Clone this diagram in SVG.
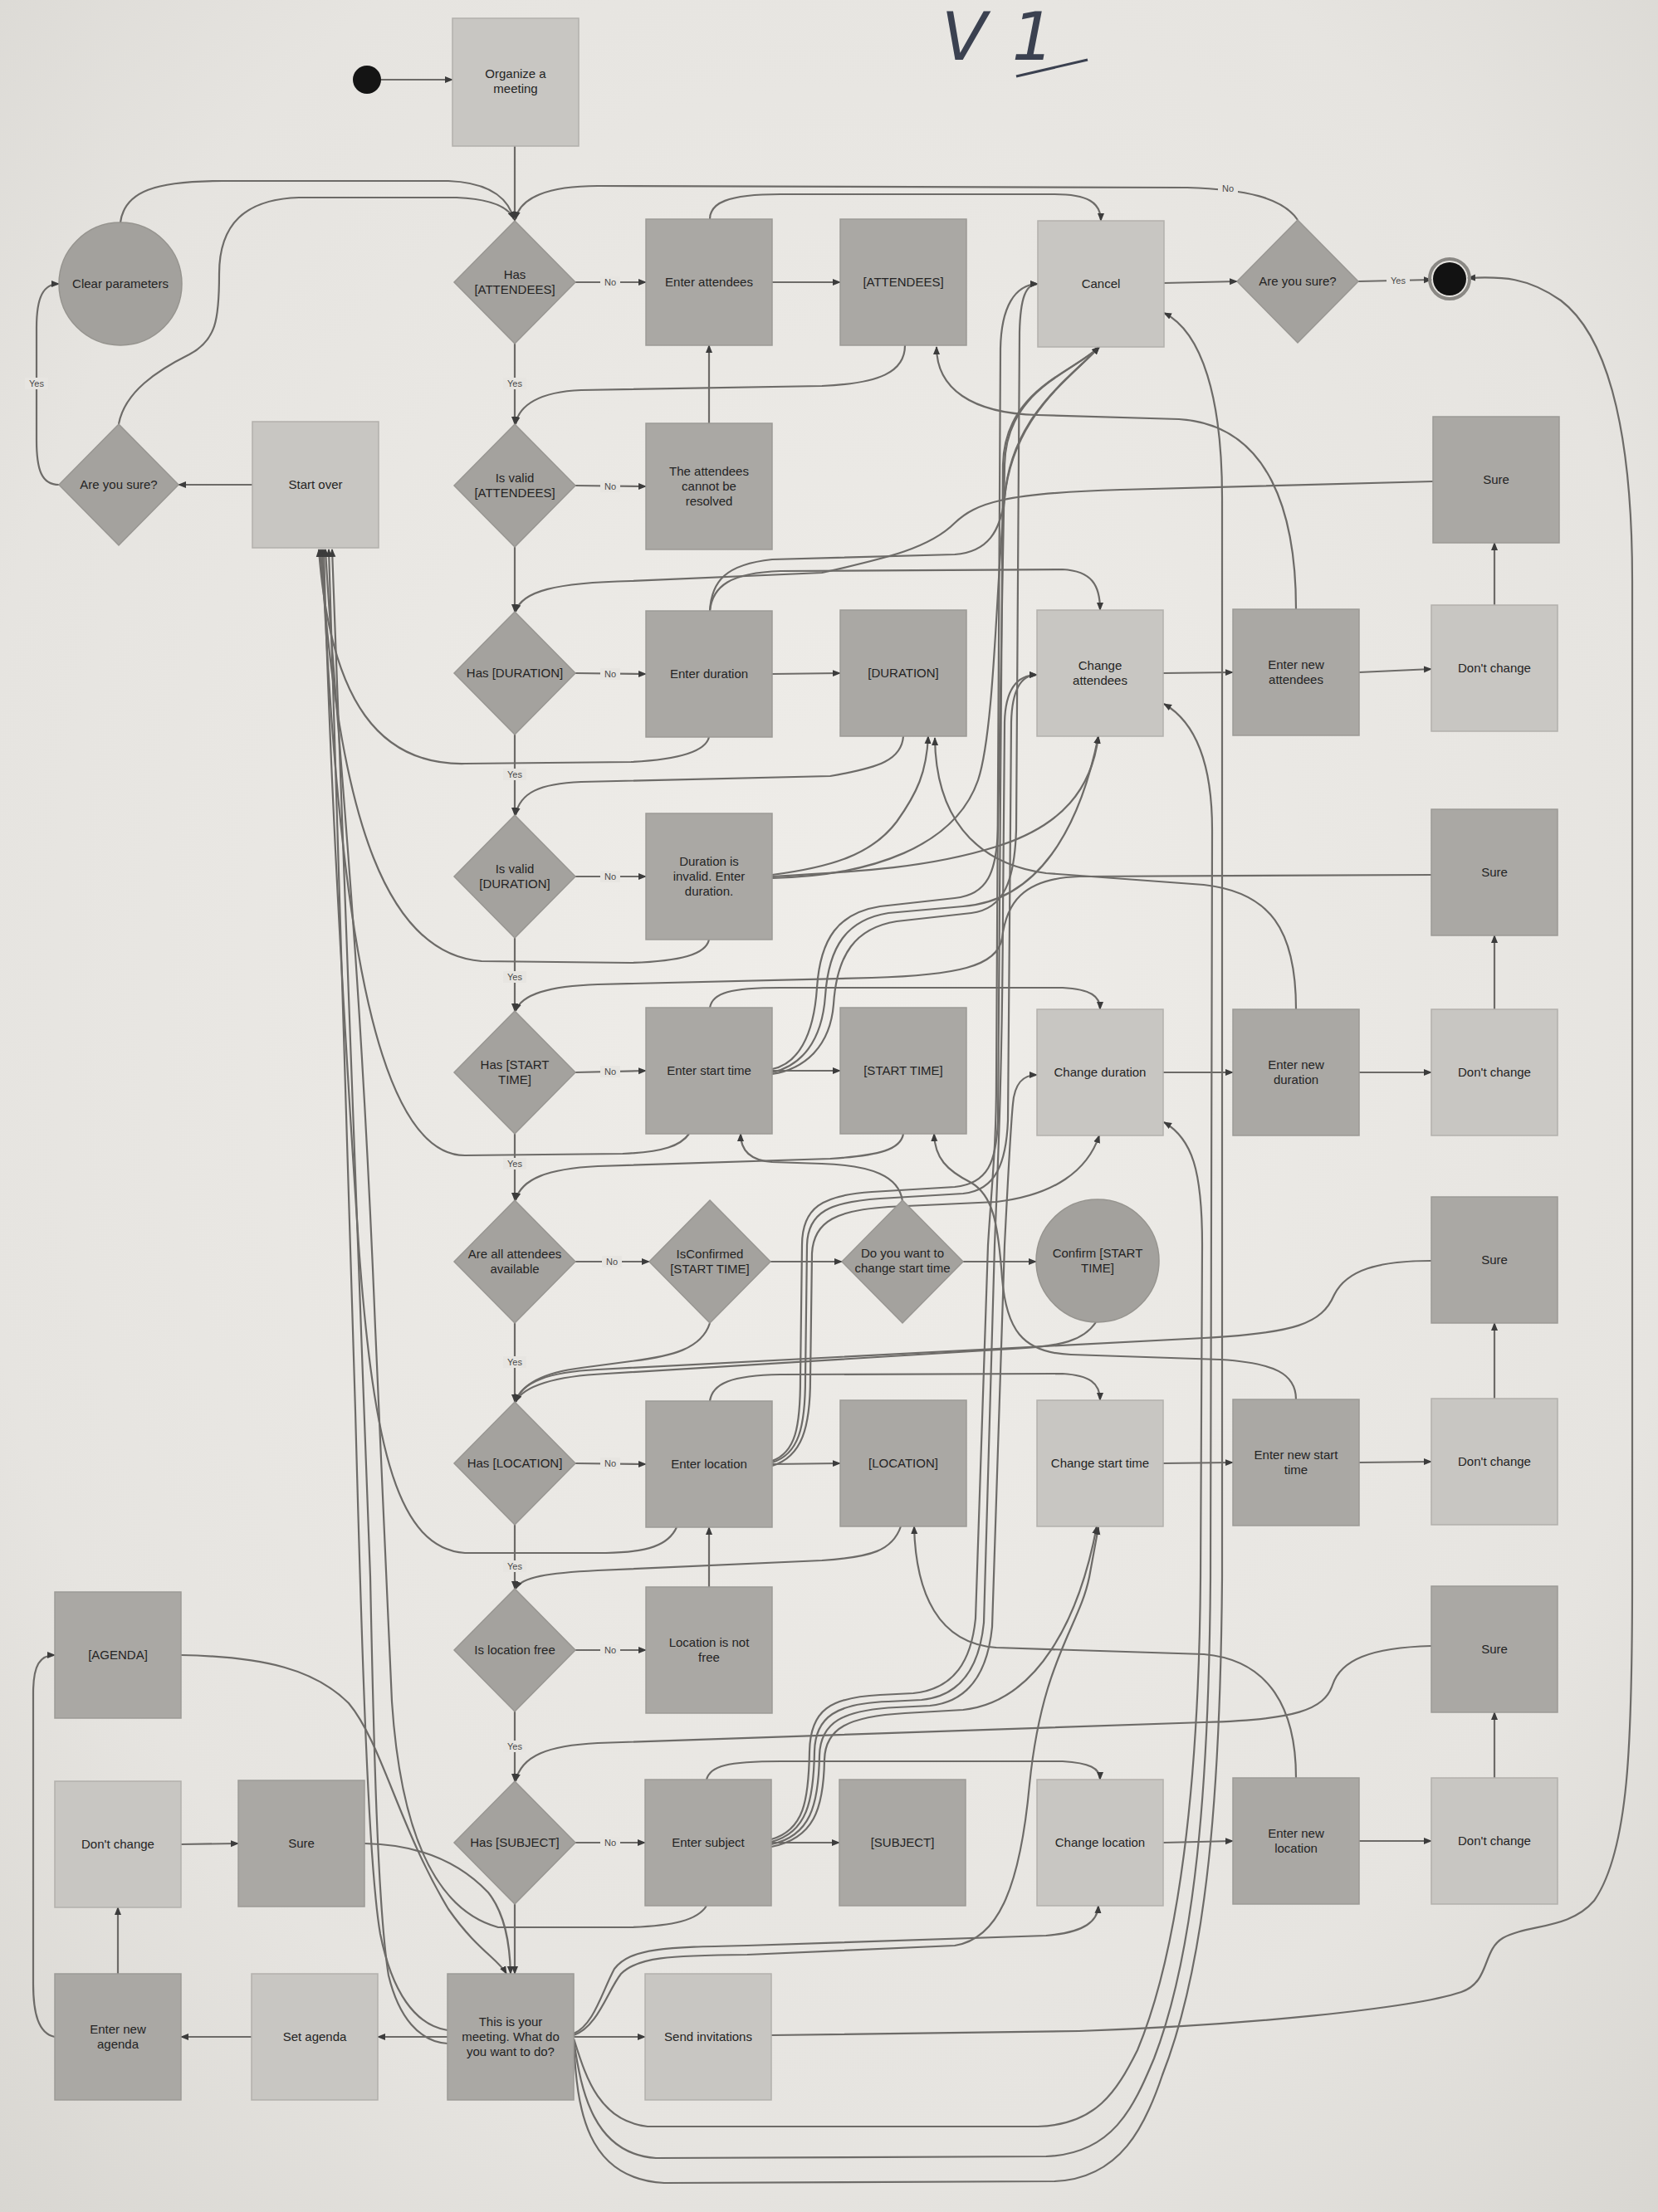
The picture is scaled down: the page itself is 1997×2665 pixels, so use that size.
<svg xmlns="http://www.w3.org/2000/svg" width="1997" height="2665" viewBox="0 0 1997 2665">
<defs>
<radialGradient id="paper" cx="50%" cy="45%" r="75%">
<stop offset="0" stop-color="#efede9"/>
<stop offset="0.7" stop-color="#e6e4e0"/>
<stop offset="1" stop-color="#d8d6d1"/>
</radialGradient>
<marker id="ah" viewBox="0 0 10 10" refX="9" refY="5" markerWidth="10" markerHeight="10" markerUnits="userSpaceOnUse" orient="auto">
<path d="M0,1 L10,5 L0,9 z" fill="#3c3c3c"/>
</marker>
<style>
.lb{fill:#c8c6c2;stroke:#b2b0ac;stroke-width:1.5}
.db{fill:#aaa8a4;stroke:#9c9a96;stroke-width:1.5}
.dm{fill:#a4a29e;stroke:#989692;stroke-width:1.5}
.cc{fill:#a3a19d;stroke:#96948f;stroke-width:1.5}
.t{font-family:"Liberation Sans",Arial,sans-serif;font-size:15px;fill:#242424;text-anchor:middle}
.lbl{font-family:"Liberation Sans",Arial,sans-serif;font-size:11px;fill:#4a4a4a;text-anchor:middle}
.lbg{fill:#e7e5e1}
.cn path{fill:none;stroke:#6d6b68;stroke-width:2.2;marker-end:url(#ah)}
</style>
</defs>
<rect x="0" y="0" width="1997" height="2665" fill="url(#paper)"/>
<text x="1134" y="72" font-family="DejaVu Sans" font-size="80" font-weight="200" font-style="italic" fill="#3b4150" letter-spacing="30">V1</text>
<path d="M1224,92 L1310,72" stroke="#3b4150" stroke-width="3" fill="none"/>

<g id="connectors" class="cn">
<path d="M459,96 L545,96"/>
<path d="M620,176 L620,266"/>
<path d="M693,340 L778,340"/>
<path d="M930,340 L1012,340"/>
<path d="M620,414 L620,511"/>
<path d="M693,585 L778,586"/>
<path d="M854,510 L854,416"/>
<path d="M620,659 L620,737"/>
<path d="M693,811 L778,812"/>
<path d="M930,812 L1012,811"/>
<path d="M620,885 L620,982"/>
<path d="M693,1056 L778,1056"/>
<path d="M620,1130 L620,1218"/>
<path d="M693,1292 L778,1290"/>
<path d="M930,1290 L1012,1290"/>
<path d="M620,1366 L620,1446"/>
<path d="M693,1520 L782,1520"/>
<path d="M928,1520 L1014,1520"/>
<path d="M1160,1520 L1248,1520"/>
<path d="M620,1594 L620,1689"/>
<path d="M693,1763 L778,1764"/>
<path d="M930,1764 L1012,1763"/>
<path d="M620,1837 L620,1914"/>
<path d="M693,1988 L778,1988"/>
<path d="M854,1912 L854,1840"/>
<path d="M620,2062 L620,2146"/>
<path d="M693,2220 L777,2220"/>
<path d="M929,2220 L1011,2220"/>
<path d="M620,2294 L620,2378"/>
<path d="M539,2454 L455,2454"/>
<path d="M303,2454 L218,2454"/>
<path d="M142,2378 L142,2298"/>
<path d="M218,2222 L287,2221"/>
<path d="M691,2454 L777,2454"/>
<path d="M304,584 L215,584"/>
<path d="M71,584 C50,584 44,566 44,530 L44,395 C44,358 52,342 71,342"/>
<path d="M1402,341 L1490,339"/>
<path d="M1636,339 L1724,337"/>
<path d="M1401,811 L1485,810"/>
<path d="M1637,810 L1724,806"/>
<path d="M1800,729 L1800,654"/>
<path d="M1401,1292 L1485,1292"/>
<path d="M1637,1292 L1724,1292"/>
<path d="M1800,1216 L1800,1127"/>
<path d="M1401,1763 L1485,1762"/>
<path d="M1637,1762 L1724,1761"/>
<path d="M1800,1685 L1800,1594"/>
<path d="M1401,2220 L1485,2218"/>
<path d="M1637,2218 L1724,2218"/>
<path d="M1800,2142 L1800,2063"/>
<path d="M66,2454 C46,2450 40,2425 40,2390 L40,2040 C40,2006 48,1994 66,1994"/>
<path d="M1563,265 C1545,238 1500,228 1430,226 L720,224 C660,224 626,238 621,264"/>
<path d="M145,268 C150,230 188,218 268,218 L540,218 C590,220 612,238 619,264"/>
<path d="M143,511 C150,472 190,446 228,427 C260,410 264,386 264,330 C264,270 295,240 360,238 L550,238 C594,240 613,250 619,264"/>
<path d="M855,264 C855,245 875,234 940,234 L1270,234 C1310,234 1326,244 1326,266"/>
<path d="M1090,416 C1090,448 1060,462 990,465 L700,470 C650,472 625,488 621,511"/>
<path d="M1561,734 C1561,620 1530,512 1420,505 L1250,500 C1170,498 1128,468 1128,418"/>
<path d="M1726,580 L1350,590 C1210,594 1175,606 1150,630 C1120,660 1070,672 990,690 L760,700 C670,702 628,712 621,737"/>
<path d="M855,736 C858,706 880,690 940,688 L1280,686 C1315,688 1325,705 1325,735"/>
<path d="M1088,887 C1086,915 1060,925 1000,935 L700,942 C650,944 626,955 621,982"/>
<path d="M1561,1216 C1561,1120 1530,1075 1450,1066 L1260,1052 C1170,1040 1127,980 1126,889"/>
<path d="M1724,1054 L1300,1056 C1230,1058 1212,1090 1207,1130 C1202,1165 1150,1175 1050,1178 L720,1186 C660,1188 628,1198 621,1218"/>
<path d="M855,1214 C858,1196 880,1190 940,1190 L1280,1190 C1314,1192 1325,1200 1325,1216"/>
<path d="M1088,1366 C1085,1385 1060,1392 1000,1396 L720,1405 C660,1408 628,1420 621,1446"/>
<path d="M1561,1686 C1561,1655 1535,1642 1470,1638 L1290,1632 C1230,1630 1212,1600 1207,1540 C1202,1470 1195,1440 1170,1425 C1140,1410 1126,1395 1125,1366"/>
<path d="M1087,1447 C1083,1417 1050,1404 990,1402 L930,1400 C902,1398 892,1385 892,1366"/>
<path d="M1724,1519 C1660,1519 1622,1530 1607,1560 C1592,1595 1560,1606 1450,1612 L720,1650 C660,1653 628,1665 621,1689"/>
<path d="M855,1594 C845,1625 810,1634 760,1640 L700,1648 C652,1654 628,1668 621,1689"/>
<path d="M1320,1593 C1305,1615 1280,1622 1220,1625 L730,1655 C668,1658 630,1670 621,1689"/>
<path d="M855,1688 C858,1667 880,1657 940,1656 L1280,1655 C1312,1657 1325,1666 1325,1687"/>
<path d="M1085,1839 C1075,1868 1050,1876 990,1880 L720,1892 C660,1895 628,1900 621,1914"/>
<path d="M1561,2142 C1561,2060 1530,2000 1450,1993 L1200,1985 C1130,1980 1103,1920 1101,1839"/>
<path d="M1724,1983 C1650,1985 1615,2000 1605,2030 C1595,2060 1560,2072 1450,2075 L720,2100 C660,2103 628,2115 621,2146"/>
<path d="M851,2144 C855,2128 875,2122 940,2122 L1280,2122 C1312,2124 1325,2130 1325,2144"/>
<path d="M218,1994 C320,1996 380,2012 420,2052 C460,2100 480,2200 540,2300 C575,2350 600,2360 610,2378"/>
<path d="M439,2221 C500,2222 550,2240 588,2280 C608,2305 614,2340 615,2378"/>
<path d="M855,736 C857,700 874,680 930,674 L1150,668 C1190,665 1205,640 1210,600 C1218,500 1290,455 1324,418"/>
<path d="M930,1054 C1000,1045 1050,1030 1080,990 C1105,955 1116,930 1118,887"/>
<path d="M930,1056 C1040,1050 1120,1045 1200,1020 C1280,995 1315,950 1323,887"/>
<path d="M930,1058 C1050,1055 1150,1020 1178,940 C1198,880 1200,700 1210,600 C1220,500 1290,455 1324,418"/>
<path d="M930,1288 C960,1282 980,1250 984,1190 C988,1130 1010,1100 1060,1092 L1150,1082 C1190,1078 1200,1050 1202,1000 L1210,560 C1212,470 1290,450 1324,418"/>
<path d="M930,1292 C965,1284 990,1255 994,1200 C998,1140 1020,1108 1070,1100 L1160,1092 C1250,1085 1300,1000 1323,887"/>
<path d="M930,1294 C970,1288 1000,1260 1004,1210 C1008,1150 1030,1118 1080,1110 L1170,1100 C1210,1095 1222,1060 1224,1000 L1228,400 C1229,360 1235,342 1250,342"/>
<path d="M930,1760 C958,1750 964,1720 964,1660 L966,1500 C966,1455 990,1440 1050,1436 L1150,1430 C1190,1426 1200,1400 1202,1350 L1208,560 C1210,470 1290,450 1324,418"/>
<path d="M930,1762 C962,1752 970,1720 970,1660 L972,1500 C973,1460 1000,1448 1060,1444 L1160,1438 C1200,1434 1212,1400 1214,1350 L1218,870 C1219,830 1230,813 1249,813"/>
<path d="M930,1766 C966,1755 976,1720 976,1660 L978,1510 C980,1470 1010,1458 1070,1454 L1200,1448 C1270,1440 1310,1410 1324,1368"/>
<path d="M929,2216 C968,2205 974,2170 975,2110 C976,2060 1000,2045 1060,2042 L1100,2040 C1150,2035 1170,2000 1175,1950 L1190,1500 C1195,1420 1200,1380 1200,1300 L1205,420 C1206,370 1222,343 1250,342"/>
<path d="M929,2219 C972,2208 980,2170 981,2110 C982,2068 1008,2052 1070,2050 L1110,2048 C1160,2043 1180,2005 1185,1955 L1198,1500 C1202,1400 1207,1300 1208,1100 L1210,870 C1211,830 1225,813 1249,813"/>
<path d="M929,2222 C976,2212 986,2175 987,2115 C988,2075 1015,2060 1080,2057 L1120,2055 C1170,2050 1190,2010 1195,1960 L1210,1500 C1215,1400 1218,1350 1220,1330 C1222,1305 1232,1295 1249,1295"/>
<path d="M929,2225 C980,2215 992,2180 993,2120 C994,2082 1022,2068 1090,2064 L1160,2060 C1250,2050 1300,1950 1321,1839"/>
<path d="M854,888 C850,905 820,915 760,918 L560,920 C460,922 398,850 384,662"/>
<path d="M854,1132 C850,1150 820,1158 760,1160 L580,1158 C470,1150 408,1000 386,662"/>
<path d="M830,1366 C820,1380 800,1388 750,1390 L560,1392 C460,1392 408,1150 388,662"/>
<path d="M815,1840 C805,1862 780,1870 730,1871 L560,1871 C480,1865 450,1750 432,1500 C412,1200 396,900 390,662"/>
<path d="M851,2296 C840,2314 810,2320 760,2322 L600,2322 C520,2300 482,2200 472,2050 L452,1600 C432,1100 402,850 392,662"/>
<path d="M539,2446 C500,2440 472,2400 458,2330 C444,2250 436,2000 428,1700 L396,662"/>
<path d="M539,2462 C505,2460 480,2430 468,2380 C455,2300 450,2100 446,1900 L400,662"/>
<path d="M691,2450 C715,2440 725,2400 740,2372 C760,2347 800,2346 900,2344 L1260,2332 C1308,2328 1322,2314 1323,2296"/>
<path d="M691,2452 C720,2442 732,2398 748,2378 C768,2358 805,2356 900,2355 L1150,2344 C1200,2336 1228,2280 1240,2150 C1255,2000 1300,1960 1312,1900 L1323,1840"/>
<path d="M691,2456 C705,2500 720,2555 780,2562 L1250,2562 C1320,2560 1345,2520 1370,2470 C1420,2350 1444,2150 1446,1900 L1448,1500 C1448,1410 1436,1372 1402,1352"/>
<path d="M691,2458 C700,2520 715,2595 790,2600 L1260,2598 C1340,2595 1365,2540 1390,2480 C1440,2350 1456,2150 1458,1900 L1460,1000 C1460,920 1440,870 1402,848"/>
<path d="M691,2460 C695,2540 705,2625 800,2630 L1270,2628 C1350,2625 1380,2560 1400,2500 C1455,2360 1470,2150 1472,1900 L1472,600 C1472,480 1448,400 1402,377"/>
<path d="M929,2452 L1300,2447 C1500,2440 1700,2420 1760,2400 C1795,2388 1785,2350 1810,2335 C1840,2318 1890,2325 1920,2290 C1962,2230 1966,2100 1966,1900 L1966,700 C1966,500 1930,400 1880,362 C1840,334 1810,333 1768,335"/>
<g id="edge-labels">
<rect class="lbg" x="723" y="333" width="24" height="14"/><text class="lbl" x="735" y="344">No</text>
<rect class="lbg" x="723" y="579" width="24" height="14"/><text class="lbl" x="735" y="590">No</text>
<rect class="lbg" x="723" y="805" width="24" height="14"/><text class="lbl" x="735" y="816">No</text>
<rect class="lbg" x="723" y="1049" width="24" height="14"/><text class="lbl" x="735" y="1060">No</text>
<rect class="lbg" x="723" y="1284" width="24" height="14"/><text class="lbl" x="735" y="1295">No</text>
<rect class="lbg" x="725" y="1513" width="24" height="14"/><text class="lbl" x="737" y="1524">No</text>
<rect class="lbg" x="723" y="1756" width="24" height="14"/><text class="lbl" x="735" y="1767">No</text>
<rect class="lbg" x="723" y="1981" width="24" height="14"/><text class="lbl" x="735" y="1992">No</text>
<rect class="lbg" x="723" y="2213" width="24" height="14"/><text class="lbl" x="735" y="2224">No</text>
<rect class="lbg" x="1467" y="220" width="24" height="14"/><text class="lbl" x="1479" y="231">No</text>
<rect class="lbg" x="606" y="455" width="28" height="14"/><text class="lbl" x="620" y="466">Yes</text>
<rect class="lbg" x="606" y="926" width="28" height="14"/><text class="lbl" x="620" y="937">Yes</text>
<rect class="lbg" x="606" y="1170" width="28" height="14"/><text class="lbl" x="620" y="1181">Yes</text>
<rect class="lbg" x="606" y="1395" width="28" height="14"/><text class="lbl" x="620" y="1406">Yes</text>
<rect class="lbg" x="606" y="1634" width="28" height="14"/><text class="lbl" x="620" y="1645">Yes</text>
<rect class="lbg" x="606" y="1880" width="28" height="14"/><text class="lbl" x="620" y="1891">Yes</text>
<rect class="lbg" x="606" y="2097" width="28" height="14"/><text class="lbl" x="620" y="2108">Yes</text>
<rect class="lbg" x="30" y="455" width="28" height="14"/><text class="lbl" x="44" y="466">Yes</text>
<rect class="lbg" x="1670" y="331" width="28" height="14"/><text class="lbl" x="1684" y="342">Yes</text>
</g>
</g>

<g id="start"><circle cx="442" cy="96" r="17" fill="#141414"/></g>
<g id="organize"><rect class="lb" x="545" y="22" width="152" height="154"/><text class="t" x="621" y="94"><tspan x="621">Organize a</tspan><tspan x="621" dy="18">meeting</tspan></text></g>
<g id="clear-parameters"><circle class="cc" cx="145" cy="342" r="74"/><text class="t" x="145" y="347">Clear parameters</text></g>
<g id="sure-left"><polygon class="dm" points="143,511 215,584 143,657 71,584"/><text class="t" x="143" y="589">Are you sure?</text></g>
<g id="start-over"><rect class="lb" x="304" y="508" width="152" height="152"/><text class="t" x="380" y="589">Start over</text></g>
<g id="has-attendees"><polygon class="dm" points="620,266 693,340 620,414 547,340"/><text class="t" x="620" y="336"><tspan x="620">Has</tspan><tspan x="620" dy="18">[ATTENDEES]</tspan></text></g>
<g id="valid-attendees"><polygon class="dm" points="620,511 693,585 620,659 547,585"/><text class="t" x="620" y="581"><tspan x="620">Is valid</tspan><tspan x="620" dy="18">[ATTENDEES]</tspan></text></g>
<g id="has-duration"><polygon class="dm" points="620,737 693,811 620,885 547,811"/><text class="t" x="620" y="816">Has [DURATION]</text></g>
<g id="valid-duration"><polygon class="dm" points="620,982 693,1056 620,1130 547,1056"/><text class="t" x="620" y="1052"><tspan x="620">Is valid</tspan><tspan x="620" dy="18">[DURATION]</tspan></text></g>
<g id="has-start-time"><polygon class="dm" points="620,1218 693,1292 620,1366 547,1292"/><text class="t" x="620" y="1288"><tspan x="620">Has [START</tspan><tspan x="620" dy="18">TIME]</tspan></text></g>
<g id="all-available"><polygon class="dm" points="620,1446 693,1520 620,1594 547,1520"/><text class="t" x="620" y="1516"><tspan x="620">Are all attendees</tspan><tspan x="620" dy="18">available</tspan></text></g>
<g id="has-location"><polygon class="dm" points="620,1689 693,1763 620,1837 547,1763"/><text class="t" x="620" y="1768">Has [LOCATION]</text></g>
<g id="location-free"><polygon class="dm" points="620,1914 693,1988 620,2062 547,1988"/><text class="t" x="620" y="1993">Is location free</text></g>
<g id="has-subject"><polygon class="dm" points="620,2146 693,2220 620,2294 547,2220"/><text class="t" x="620" y="2225">Has [SUBJECT]</text></g>
<g id="your-meeting"><rect class="db" x="539" y="2378" width="152" height="152"/><text class="t" x="615" y="2441"><tspan x="615">This is your</tspan><tspan x="615" dy="18">meeting. What do</tspan><tspan x="615" dy="18">you want to do?</tspan></text></g>
<g id="enter-attendees"><rect class="db" x="778" y="264" width="152" height="152"/><text class="t" x="854" y="345">Enter attendees</text></g>
<g id="attendees-unresolved"><rect class="db" x="778" y="510" width="152" height="152"/><text class="t" x="854" y="573"><tspan x="854">The attendees</tspan><tspan x="854" dy="18">cannot be</tspan><tspan x="854" dy="18">resolved</tspan></text></g>
<g id="enter-duration"><rect class="db" x="778" y="736" width="152" height="152"/><text class="t" x="854" y="817">Enter duration</text></g>
<g id="duration-invalid"><rect class="db" x="778" y="980" width="152" height="152"/><text class="t" x="854" y="1043"><tspan x="854">Duration is</tspan><tspan x="854" dy="18">invalid. Enter</tspan><tspan x="854" dy="18">duration.</tspan></text></g>
<g id="enter-start-time"><rect class="db" x="778" y="1214" width="152" height="152"/><text class="t" x="854" y="1295">Enter start time</text></g>
<g id="is-confirmed"><polygon class="dm" points="855,1446 928,1520 855,1594 782,1520"/><text class="t" x="855" y="1516"><tspan x="855">IsConfirmed</tspan><tspan x="855" dy="18">[START TIME]</tspan></text></g>
<g id="enter-location"><rect class="db" x="778" y="1688" width="152" height="152"/><text class="t" x="854" y="1769">Enter location</text></g>
<g id="location-not-free"><rect class="db" x="778" y="1912" width="152" height="152"/><text class="t" x="854" y="1984"><tspan x="854">Location is not</tspan><tspan x="854" dy="18">free</tspan></text></g>
<g id="enter-subject"><rect class="db" x="777" y="2144" width="152" height="152"/><text class="t" x="853" y="2225">Enter subject</text></g>
<g id="send-invitations"><rect class="lb" x="777" y="2378" width="152" height="152"/><text class="t" x="853" y="2459">Send invitations</text></g>
<g id="attendees-value"><rect class="db" x="1012" y="264" width="152" height="152"/><text class="t" x="1088" y="345">[ATTENDEES]</text></g>
<g id="duration-value"><rect class="db" x="1012" y="735" width="152" height="152"/><text class="t" x="1088" y="816">[DURATION]</text></g>
<g id="start-time-value"><rect class="db" x="1012" y="1214" width="152" height="152"/><text class="t" x="1088" y="1295">[START TIME]</text></g>
<g id="change-start-question"><polygon class="dm" points="1087,1446 1160,1520 1087,1594 1014,1520"/><text class="t" x="1087" y="1515"><tspan x="1087">Do you want to</tspan><tspan x="1087" dy="18">change start time</tspan></text></g>
<g id="location-value"><rect class="db" x="1012" y="1687" width="152" height="152"/><text class="t" x="1088" y="1768">[LOCATION]</text></g>
<g id="subject-value"><rect class="db" x="1011" y="2144" width="152" height="152"/><text class="t" x="1087" y="2225">[SUBJECT]</text></g>
<g id="cancel"><rect class="lb" x="1250" y="266" width="152" height="152"/><text class="t" x="1326" y="347">Cancel</text></g>
<g id="change-attendees"><rect class="lb" x="1249" y="735" width="152" height="152"/><text class="t" x="1325" y="807"><tspan x="1325">Change</tspan><tspan x="1325" dy="18">attendees</tspan></text></g>
<g id="change-duration"><rect class="lb" x="1249" y="1216" width="152" height="152"/><text class="t" x="1325" y="1297">Change duration</text></g>
<g id="confirm-start-time"><circle class="cc" cx="1322" cy="1519" r="74"/><text class="t" x="1322" y="1515"><tspan x="1322">Confirm [START</tspan><tspan x="1322" dy="18">TIME]</tspan></text></g>
<g id="change-start-time"><rect class="lb" x="1249" y="1687" width="152" height="152"/><text class="t" x="1325" y="1768">Change start time</text></g>
<g id="change-location"><rect class="lb" x="1249" y="2144" width="152" height="152"/><text class="t" x="1325" y="2225">Change location</text></g>
<g id="sure-right"><polygon class="dm" points="1563,265 1636,339 1563,413 1490,339"/><text class="t" x="1563" y="344">Are you sure?</text></g>
<g id="end"><circle cx="1746" cy="336" r="24" fill="none" stroke="#8a8884" stroke-width="4"/><circle cx="1746" cy="336" r="20" fill="#121212"/></g>
<g id="new-attendees"><rect class="db" x="1485" y="734" width="152" height="152"/><text class="t" x="1561" y="806"><tspan x="1561">Enter new</tspan><tspan x="1561" dy="18">attendees</tspan></text></g>
<g id="new-duration"><rect class="db" x="1485" y="1216" width="152" height="152"/><text class="t" x="1561" y="1288"><tspan x="1561">Enter new</tspan><tspan x="1561" dy="18">duration</tspan></text></g>
<g id="new-start-time"><rect class="db" x="1485" y="1686" width="152" height="152"/><text class="t" x="1561" y="1758"><tspan x="1561">Enter new start</tspan><tspan x="1561" dy="18">time</tspan></text></g>
<g id="new-location"><rect class="db" x="1485" y="2142" width="152" height="152"/><text class="t" x="1561" y="2214"><tspan x="1561">Enter new</tspan><tspan x="1561" dy="18">location</tspan></text></g>
<g id="sure-1"><rect class="db" x="1726" y="502" width="152" height="152"/><text class="t" x="1802" y="583">Sure</text></g>
<g id="dont-change-1"><rect class="lb" x="1724" y="729" width="152" height="152"/><text class="t" x="1800" y="810">Don't change</text></g>
<g id="sure-2"><rect class="db" x="1724" y="975" width="152" height="152"/><text class="t" x="1800" y="1056">Sure</text></g>
<g id="dont-change-2"><rect class="lb" x="1724" y="1216" width="152" height="152"/><text class="t" x="1800" y="1297">Don't change</text></g>
<g id="sure-3"><rect class="db" x="1724" y="1442" width="152" height="152"/><text class="t" x="1800" y="1523">Sure</text></g>
<g id="dont-change-3"><rect class="lb" x="1724" y="1685" width="152" height="152"/><text class="t" x="1800" y="1766">Don't change</text></g>
<g id="sure-4"><rect class="db" x="1724" y="1911" width="152" height="152"/><text class="t" x="1800" y="1992">Sure</text></g>
<g id="dont-change-4"><rect class="lb" x="1724" y="2142" width="152" height="152"/><text class="t" x="1800" y="2223">Don't change</text></g>
<g id="agenda-value"><rect class="db" x="66" y="1918" width="152" height="152"/><text class="t" x="142" y="1999">[AGENDA]</text></g>
<g id="dont-change-agenda"><rect class="lb" x="66" y="2146" width="152" height="152"/><text class="t" x="142" y="2227">Don't change</text></g>
<g id="sure-agenda"><rect class="db" x="287" y="2145" width="152" height="152"/><text class="t" x="363" y="2226">Sure</text></g>
<g id="new-agenda"><rect class="db" x="66" y="2378" width="152" height="152"/><text class="t" x="142" y="2450"><tspan x="142">Enter new</tspan><tspan x="142" dy="18">agenda</tspan></text></g>
<g id="set-agenda"><rect class="lb" x="303" y="2378" width="152" height="152"/><text class="t" x="379" y="2459">Set agenda</text></g>
</svg>
